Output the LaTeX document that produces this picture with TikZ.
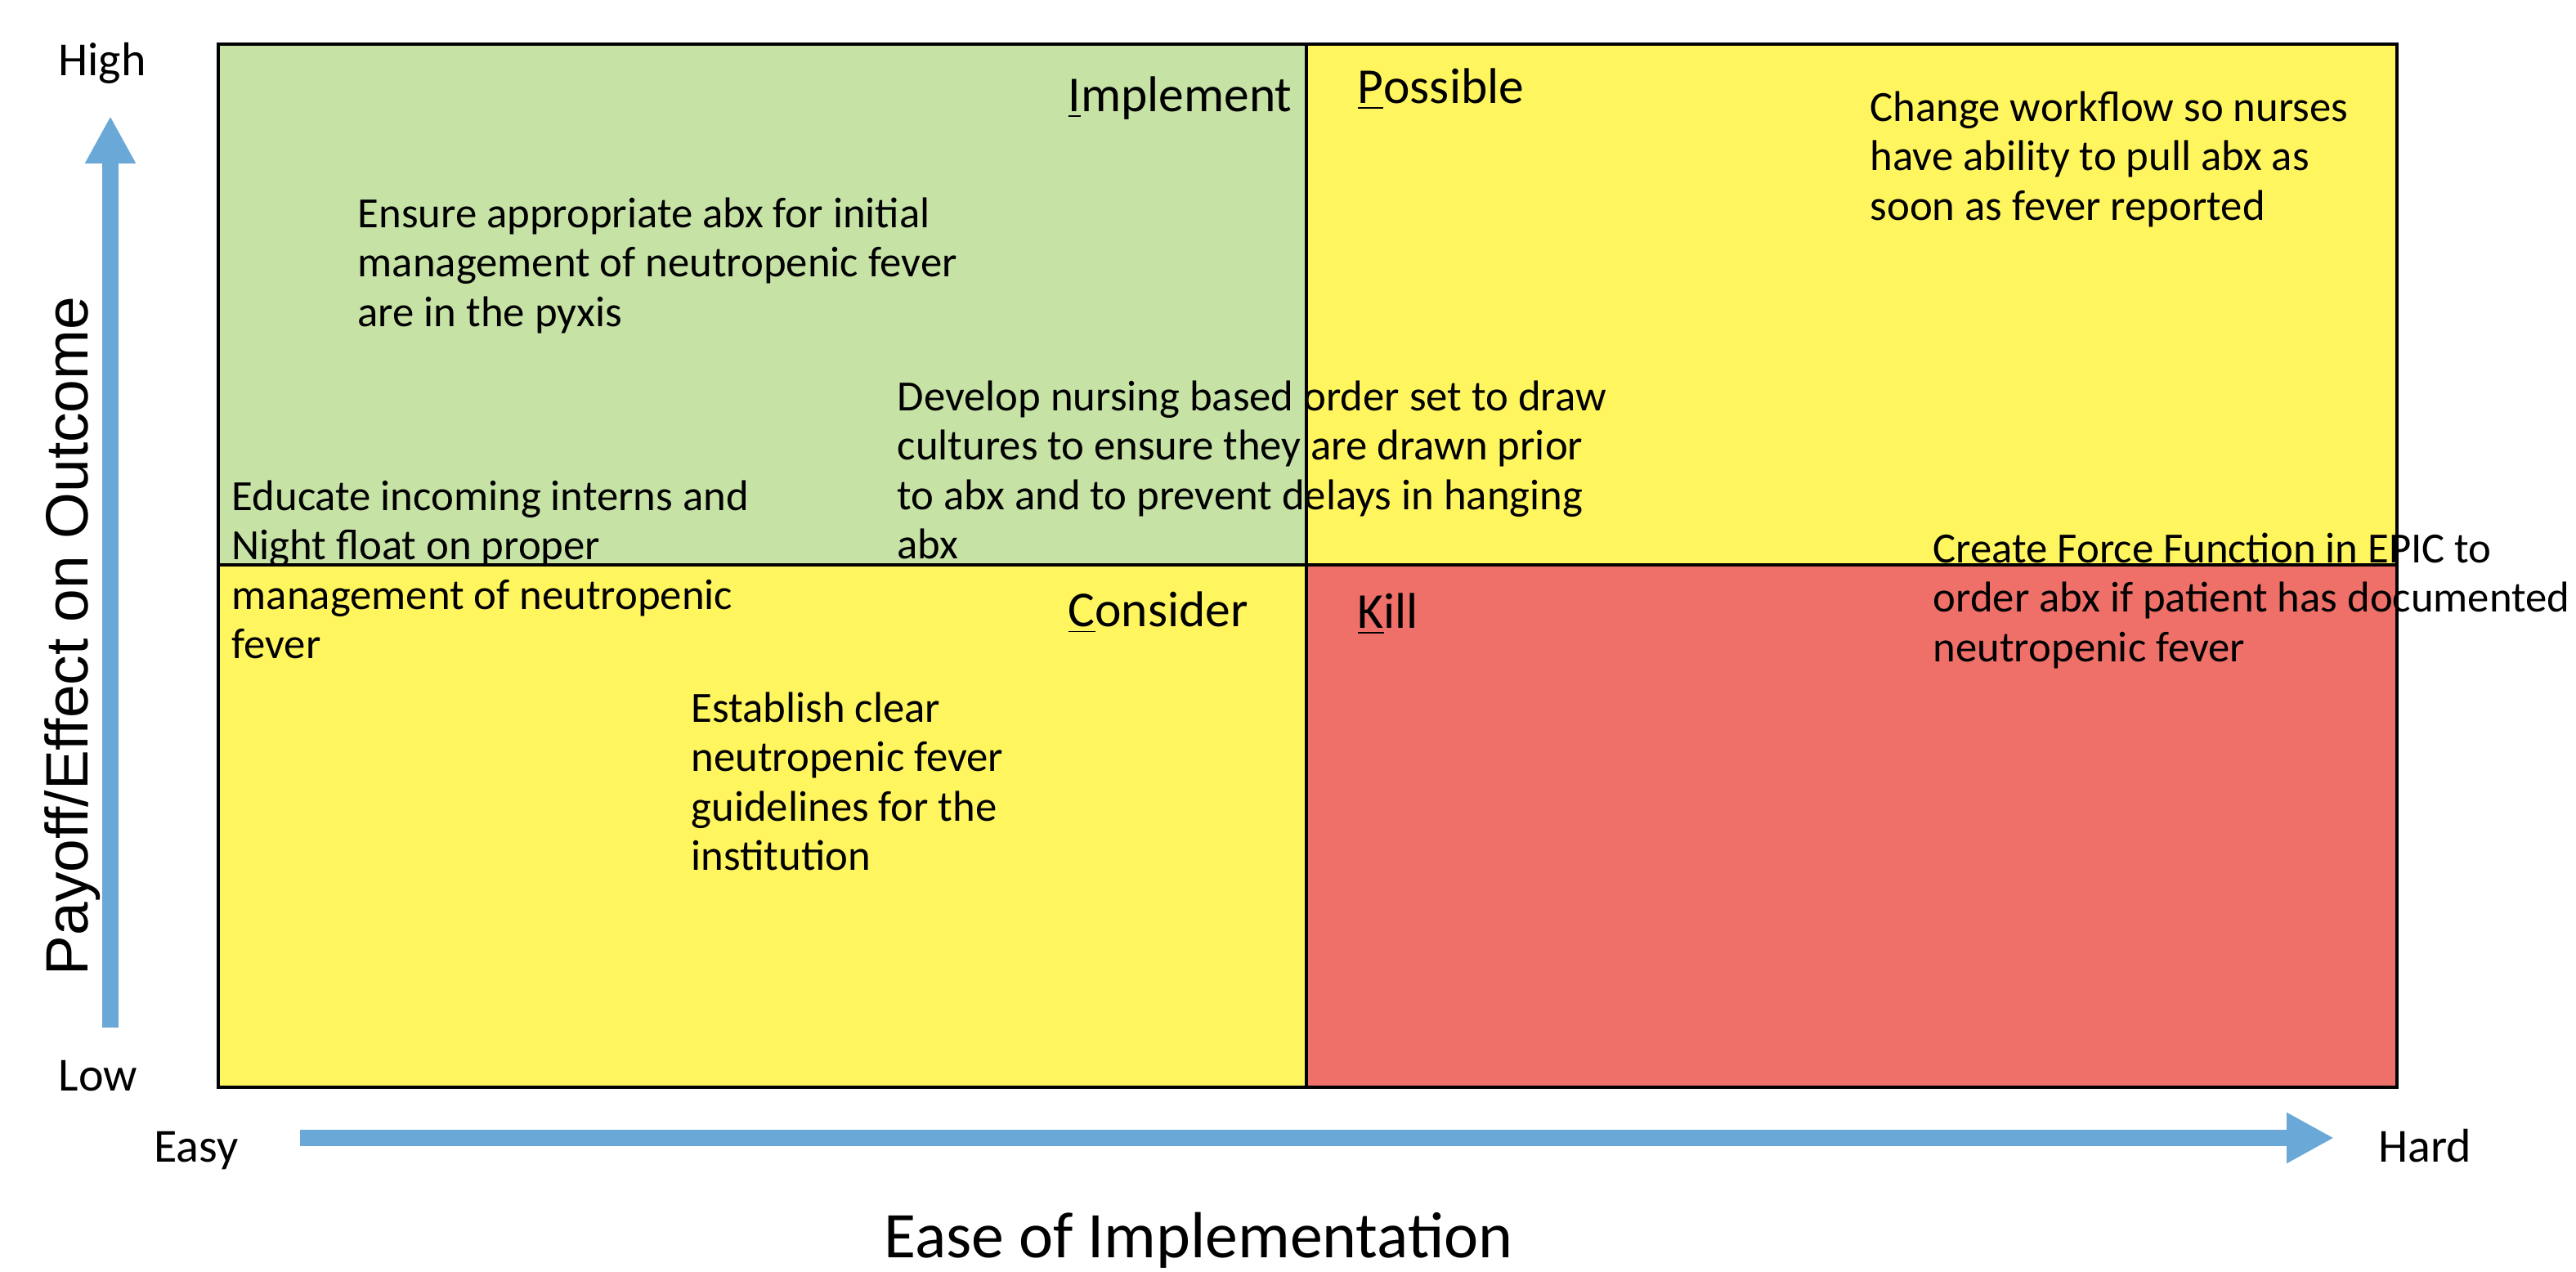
\documentclass[tikz,border=0pt]{standalone}
\usepackage{fontspec}
\setmainfont{Carlito}
\newfontfamily\titlefont{Liberation Sans}
\usetikzlibrary{arrows.meta}

\definecolor{implgreen}{HTML}{C6E2A5}
\definecolor{possyellow}{HTML}{FFF55F}
\definecolor{killred}{HTML}{EE7068}
\definecolor{axisblue}{HTML}{6AA9D7}

\tikzset{
  idea/.style={anchor=north west, align=left, inner sep=0pt, font=\fontsize{15}{17.2}\selectfont},
  quadname/.style={anchor=base west, inner sep=0pt, font=\fontsize{17.5}{20}\selectfont},
  endlabel/.style={anchor=base, inner sep=0pt, font=\fontsize{16.5}{19}\selectfont},
  axisarrow/.style={draw=axisblue, line width=0.2cm, -{Triangle[width=0.58cm,length=0.58cm]}}
}

\begin{document}
\begin{tikzpicture}
%% Fix the page size so the margins come out right
\useasboundingbox (0,0) rectangle (31.51,15.56);
%% The four quadrants. Fill first, then draw the frame and the cross on top.
\begin{scope}[line width=1.2pt]
    \fill[implgreen] (2.67,8.65) rectangle (15.98,15.02);
    \fill[possyellow] (15.98,8.65) rectangle (29.32,15.02);
    \fill[possyellow] (2.67,2.26) rectangle (15.98,8.65);
    \fill[killred] (15.98,2.26) rectangle (29.32,8.65);
    \draw (2.67,2.26) rectangle (29.32,15.02);
    \draw (15.98,2.26) -- (15.98,15.02);
    \draw (2.67,8.65) -- (29.32,8.65);
\end{scope}
%% Quadrant names, first letter underlined
    \node[quadname] (implement) at (13.06,14.19) {\underline{I}mplement};
    \node[quadname] (possible) at (16.60,14.29) {\underline{P}ossible};
    \node[quadname] (consider) at (13.06,7.89) {\underline{C}onsider};
    \node[quadname] (kill) at (16.60,7.87) {\underline{K}ill};
%% The ideas, placed where they sit on the grid
    \node[idea] (pyxis) at (4.37,13.15) {Ensure appropriate abx for initial\\management of neutropenic fever\\are in the pyxis};
    \node[idea] (workflow) at (22.87,14.45) {Change workflow so nurses\\have ability to pull abx as\\soon as fever reported};
    \node[idea] (orderset) at (10.97,10.91) {Develop nursing based order set to draw\\cultures to ensure they are drawn prior\\to abx and to prevent delays in hanging\\abx};
    \node[idea] (educate) at (2.83,9.69) {Educate incoming interns and\\Night float on proper\\management of neutropenic\\fever};
    \node[idea] (guidelines) at (8.45,7.10) {Establish clear\\neutropenic fever\\guidelines for the\\institution};
    \node[idea] (epic) at (23.64,9.05) {Create Force Function in EPIC to\\order abx if patient has documented\\neutropenic fever};
%% Axes: blue arrows with their end labels
    \coordinate (lowend) at (1.35,2.99);
    \coordinate (highend) at (1.35,14.14);
    \coordinate (easyend) at (3.67,1.64);
    \coordinate (hardend) at (28.55,1.64);
    \draw[axisarrow] (lowend) -- (highend);
    \draw[axisarrow] (easyend) -- (hardend);
    \node[endlabel] (high) at (1.25,14.63) {High};
    \node[endlabel] (low) at (1.20,2.21) {Low};
    \node[endlabel] (easy) at (2.40,1.34) {Easy};
    \node[endlabel] (hard) at (29.66,1.34) {Hard};
%% Axis titles
    \node[anchor=base, rotate=90, inner sep=0pt, font=\titlefont\fontsize{20.8}{24}\selectfont] (payoff) at (1.07,7.78) {Payoff/Effect on Outcome};
    \node[anchor=base, inner sep=0pt, font=\fontsize{22.7}{26}\selectfont] (ease) at (14.66,0.17) {Ease of Implementation};
%\draw[help lines] (0,0) grid (31.51,15.56);
\end{tikzpicture}
\end{document}
